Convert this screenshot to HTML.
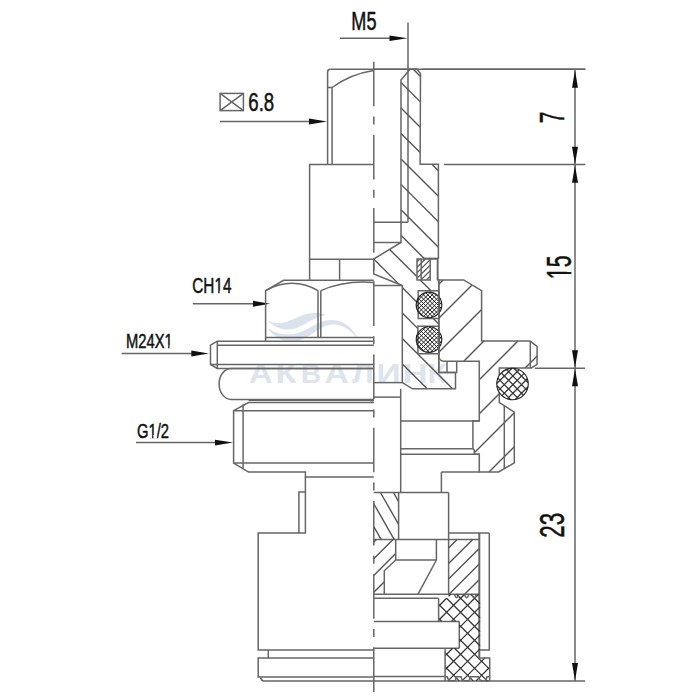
<!DOCTYPE html>
<html><head><meta charset="utf-8"><style>
html,body{margin:0;padding:0;background:#fff;}
svg{display:block;}
rect, line, path{fill:none;stroke:#666;stroke-width:1.5;}
.h{stroke:#555;stroke-width:1.4;}
.cl{stroke-dasharray:44.6 10.3 8 10.3;}
.ah{fill:#111;stroke:none;}
.wh{fill:#fff;stroke:none;}
.td{stroke-width:0.9;}
.wm{fill:#dae2ec;stroke:none;}
.wmt{font-family:"Liberation Sans",sans-serif;font-weight:bold;fill:#dde4ed;}
.hf{stroke-width:1.1;stroke:#444;}
.hx{stroke-width:1.25;stroke:#333;}
.hr{stroke-width:1.0;stroke:#222;}
.oc{fill:none;stroke:#222;stroke-width:1.1;}
.thick{stroke-width:2;}
.t{font-family:"Liberation Sans",sans-serif;fill:#111;stroke:#111;stroke-width:0.5;}
</style></head><body>
<svg width="700" height="700" viewBox="0 0 700 700">
<g>
<path class="wm" d="M267.5,320.5 C275,328 284,331 293,329 C303,327 313,317 326.5,315 C317,311.5 306,313 296,318 C286,323 276,325 267.5,320.5 Z"/>
<path class="wm" d="M267.5,328 C277,341 290,345 303,339 C314,334 322,325 332,324.5 C343,324 352,331 358,339.5 C353,327 343,320 331,320 C318,320 309,330 298,333 C287,336 276,334 267.5,328 Z"/>
<text class="wmt" transform="translate(248.72,383.4) scale(1.186,1)" font-size="28">А</text>
<text class="wmt" transform="translate(275.39,383.4) scale(1.212,1)" font-size="28">К</text>
<text class="wmt" transform="translate(300.95,383.4) scale(1.000,1)" font-size="28">В</text>
<text class="wmt" transform="translate(324.28,383.4) scale(1.219,1)" font-size="28">А</text>
<text class="wmt" transform="translate(352.20,383.4) scale(1.082,1)" font-size="28">Л</text>
<text class="wmt" transform="translate(376.43,383.4) scale(1.195,1)" font-size="28">И</text>
<text class="wmt" transform="translate(402.75,383.4) scale(1.233,1)" font-size="28">Н</text>
<text class="wmt" transform="translate(427.58,383.4) scale(1.126,1)" font-size="28">К</text>
<g transform="translate(351.3,30.3) scale(0.71,1)"><text class="t" font-size="25.5">M5</text></g>
<line x1="340" y1="38.3" x2="390" y2="38.3"/>
<polygon class="ah" points="407.5,38.3 389.5,35.5 389.5,41.1"/>
<line x1="408" y1="22.5" x2="408" y2="222.2"/>
<rect x="220.1" y="93.4" width="23.3" height="17.2"/>
<line x1="220.1" y1="93.4" x2="243.4" y2="110.6"/>
<line x1="243.4" y1="93.4" x2="220.1" y2="110.6"/>
<g transform="translate(248.3,111.1) scale(0.73,1)"><text class="t" font-size="25.5">6.8</text></g>
<line x1="220" y1="121.5" x2="310" y2="121.5"/>
<polygon class="ah" points="327,121.5 309,118.6 309,124.4"/>
<g transform="translate(192.3,293.4) scale(0.72,1)"><text class="t" font-size="21.3">CH14</text><rect class="wh" x="30.76" y="-2.63" width="5.22" height="3.43"/><rect class="wh" x="37.89" y="-2.63" width="4.90" height="3.43"/></g>
<line x1="192.8" y1="303.7" x2="256" y2="303.7"/>
<polygon class="ah" points="270,303.7 253,300.7 253,306.7"/>
<g transform="translate(126,347.9) scale(0.72,1)"><text class="t" font-size="20.5">M24X1</text><rect class="wh" x="53.55" y="-2.55" width="5.02" height="3.35"/><rect class="wh" x="60.41" y="-2.55" width="4.71" height="3.35"/></g>
<line x1="121.6" y1="353.5" x2="195" y2="353.5"/>
<polygon class="ah" points="208.8,353.5 191.3,350.6 191.3,356.4"/>
<g transform="translate(137,437.6) scale(0.72,1)"><text class="t" font-size="20.5">G1/2</text><rect class="wh" x="15.95" y="-2.55" width="5.02" height="3.35"/><rect class="wh" x="22.82" y="-2.55" width="4.71" height="3.35"/></g>
<line x1="136" y1="442.6" x2="218" y2="442.6"/>
<polygon class="ah" points="233,442.6 215,439.7 215,445.5"/>
<line x1="373.8" y1="69.3" x2="585.4" y2="69.3"/>
<line x1="443.9" y1="164.6" x2="585.4" y2="164.6"/>
<line x1="534.9" y1="368.3" x2="585.1" y2="368.3"/>
<line x1="486" y1="680.9" x2="585.1" y2="680.9"/>
<line x1="575" y1="69.5" x2="575" y2="680.9"/>
<polygon class="ah" points="575,70.2 572,87.7 578,87.7"/>
<polygon class="ah" points="575,164.2 572,146.7 578,146.7"/>
<polygon class="ah" points="575,165.2 572,182.7 578,182.7"/>
<polygon class="ah" points="575,367.8 572,350.3 578,350.3"/>
<polygon class="ah" points="575,368.8 572,386.3 578,386.3"/>
<polygon class="ah" points="575,680.4 572,662.9 578,662.9"/>
<g transform="translate(563.5,123.2) rotate(-90) scale(0.6,1)"><text class="t td" font-size="35">7</text></g>
<g transform="translate(571,279.2) rotate(-90) scale(0.61,1)"><text class="t td" font-size="35">15</text><rect class="wh" x="0.00" y="-4.00" width="8.57" height="4.80"/><rect class="wh" x="11.73" y="-4.00" width="8.05" height="4.80"/></g>
<g transform="translate(563.8,537.8) rotate(-90) scale(0.64,1)"><text class="t td" font-size="35">23</text></g>
<path d="M327.6,164.6 L327.6,72 Q327.6,69.3 330.3,69.3"/>
<line x1="327.6" y1="87.5" x2="332.1" y2="87.5"/>
<line x1="332.1" y1="87.5" x2="332.1" y2="164.6"/>
<path d="M332.1,87.5 Q350,74 373.6,70.4"/>
<path d="M373.8,164.6 L309.6,164.6 L309.6,259.3 L373.8,259.3"/>
<line x1="309.6" y1="259.3" x2="309.6" y2="280.3"/>
<line x1="339.6" y1="259.3" x2="339.6" y2="280.3"/>
<path d="M373.8,280.3 L283.6,280.3 L265.6,290.6 L265.6,341.2"/>
<line x1="265.6" y1="337.6" x2="373.8" y2="337.6"/>
<line x1="318" y1="290.6" x2="318" y2="337.8"/>
<line x1="320.8" y1="290.6" x2="320.8" y2="337.8"/>
<path d="M265.6,290.6 Q292,276 318,290.6"/>
<path d="M320.8,290.6 Q345,280 373.8,282.5"/>
<path d="M373.8,341.2 L217.3,341.2 L210.5,345.2 L210.5,364.5 L217.3,368.4 L373.8,368.4"/>
<line x1="217.3" y1="341.2" x2="217.3" y2="368.3"/>
<line x1="217.3" y1="345.2" x2="373.8" y2="345.2"/>
<line x1="210.5" y1="364.5" x2="373.8" y2="364.5"/>
<path d="M373.8,368.5 L231,368.5 A11.9,15.45 0 0 0 231,399.4 L373.8,399.4"/>
<path d="M373.8,402.6 L248.6,402.6 L233.6,410.7 L233.6,463.1 L248.6,472.1 L305.4,472.1 L305.4,477.1 L373.8,477.1"/>
<line x1="243.1" y1="404.3" x2="243.1" y2="468.6"/>
<line x1="233.6" y1="410.7" x2="373.8" y2="410.7"/>
<line x1="233.6" y1="463.1" x2="373.8" y2="463.1"/>
<line x1="248.6" y1="400.3" x2="373.8" y2="400.3"/>
<path d="M305.4,477.1 L305.4,532.9 L258.2,532.9 L258.2,650 L373.8,650"/>
<path d="M298.9,532.9 L298.9,492.1 L305.4,492.1"/>
<line x1="268.3" y1="650" x2="268.3" y2="658.1"/>
<path d="M373.8,658.1 L258.2,658.1 L258.2,676.9 L373.8,676.9"/>
<path d="M260.6,676.9 Q260.8,681.1 264.5,681.1 L373.8,681.1"/>
<line x1="330.3" y1="69.3" x2="417" y2="69.3"/>
<line x1="422.4" y1="69.3" x2="585.4" y2="69.3"/>
<line x1="373.8" y1="222.3" x2="408" y2="222.3"/>
<line x1="373.8" y1="242.5" x2="401" y2="242.5"/>
<line x1="373.8" y1="285.5" x2="402.3" y2="285.5"/>
<line x1="373.8" y1="382.6" x2="402.5" y2="382.6"/>
<line x1="373.8" y1="397.1" x2="400.7" y2="397.1"/>
<line x1="370" y1="400.3" x2="373.8" y2="400.3"/>
<line x1="370" y1="402.3" x2="373.8" y2="402.3"/>
<path class="h" d="M413.28,69.3L420.49,76.51M401,82.49L420.38,101.87M401,107.96L420.26,127.22M401,133.43L420.15,152.58M431.87,164.3L438.4,170.83M401,158.9L438.4,196.3M401,184.37L438.4,221.77M401,209.84L438.4,247.24M401,235.31L424.69,259M389.61,249.39L417,276.78M420.12,279.9L431.02,290.8M373.73,258.98L398.87,284.12M402.3,287.55L418.2,303.45M433.35,318.6L438.8,324.05M402.3,313.02L417.9,328.62M402.3,338.49L452.61,388.8M402.3,363.96L427.14,388.8"/>
<path d="M401,80 L410,69.3 L417,69.3 L420.5,73.5 L420.1,164.3 L438.4,164.3 L438.4,258.4 L437.6,259 L437.6,279.9 L438.8,279.9 L438.8,372.6 L455.5,372.6 L455.5,388.8 L412.5,388.8 L402.3,382.6 L402.3,285.5 L373.7,274 L373.7,259 L401,242.5 Z"/>
<line x1="423.5" y1="258.4" x2="438.4" y2="258.4"/>
<path class="hf" d="M417,261.8L419.8,259M417,267.3L425.3,259M417,272.8L430.2,259.6M417,278.3L430.2,265.1M420.9,279.9L430.2,270.6M426.4,279.9L430.2,276.1"/>
<path d="M417,259 L430.2,259 L430.2,279.9 L417,279.9 Z"/>
<line x1="421.2" y1="259" x2="421.2" y2="279.9"/>
<path d="M430.2,259 L437.6,259 L437.6,279.9"/>
<path d="M418.2,290.8 L438.8,290.8 L438.8,318.6 L418.2,318.6 Z"/>
<path d="M417.9,326.3 L438.8,326.3 L438.8,353.7 L417.9,353.7 Z"/>
<path class="hr" d="M416.58,301.82L425.92,292.48M416.29,306.41L430.51,292.19M417.18,309.82L433.92,293.08M418.74,312.56L436.66,294.64M420.84,314.76L438.86,296.74M423.46,316.44L440.54,299.36M426.71,317.49L441.59,302.61M430.95,317.55L441.65,306.85"/>
<path class="hr" d="M435.44,293.84L440.06,298.46M429.41,292.11L441.79,304.49M425.57,292.57L441.33,308.33M422.55,293.85L440.05,311.35M420.1,295.7L438.2,313.8M418.18,298.08L435.82,315.72M416.81,301.01L432.89,317.09M416.2,304.7L429.2,317.7M417.31,310.11L423.79,316.59"/>
<circle cx="429" cy="304.9" r="12.8" class="oc"/>
<path class="hr" d="M416.69,336.11L425.51,327.29M416.26,340.84L430.24,326.86M417.1,344.3L433.7,327.7M418.62,347.08L436.48,329.22M420.68,349.32L438.72,331.28M423.26,351.04L440.44,333.86M426.46,352.14L441.54,337.06M430.6,352.3L441.7,341.2"/>
<path class="hr" d="M436.27,329.07L439.53,332.33M429.72,326.82L441.78,338.88M425.81,327.21L441.39,342.79M422.74,328.44L440.16,345.86M420.26,330.26L438.34,348.34M418.29,332.59L436.01,350.31M416.88,335.48L433.12,351.72M416.21,339.11L429.49,352.39M417.1,344.3L424.3,351.5"/>
<circle cx="429" cy="339.6" r="12.8" class="oc"/>
<path class="h" d="M438.8,284.2L443.1,279.9M438.8,318.2L472.04,284.96M438.8,352.2L481.6,309.4M463.8,361.2L483.9,341.1M479.3,379.7L517.9,341.1M479.3,413.7L499.3,393.7M525.1,367.9L537.1,355.9M474.3,452.7L514.3,412.7M489,472L514.3,446.7"/>
<path d="M438.8,279.9 L463.6,279.9 L481.6,290.7 L481.6,341.1 L530,341.1 L537.1,346.4 L537.1,364.3 L531.4,367.9 L499.3,367.9 L499.3,402.6 L504.3,405.7 L514.3,412.1 L514.3,462.9 L498.6,472 L479.3,472 L479.3,454.3 L474.3,454.3 L474.3,450 L472.9,448.6 L472.9,420.9 L479.3,420.9 L479.3,361.2 L443.8,361.2 L442.51,361.03 L441.3,360.53 L440.26,359.74 L439.47,358.7 L438.97,357.49 L438.8,356.2 L438.8,354 Z"/>
<line x1="530.3" y1="341.1" x2="530.3" y2="367.9"/>
<line x1="504.3" y1="405.7" x2="504.3" y2="468.6"/>
<circle cx="512.5" cy="384" r="15.75" fill="#fff" stroke="none"/>
<path class="hx" d="M496.76,383.54L512.04,368.26M498.23,390.67L519.17,369.73M501.88,395.62L524.12,373.38M507.25,398.85L527.35,378.75M515.19,399.51L528.01,386.69"/>
<path class="hx" d="M513.81,368.31L528.19,382.69M506.39,369.49L527.01,390.11M501.27,372.97L523.53,395.23M497.87,378.17L518.33,398.63M496.85,385.75L510.75,399.65"/>
<circle cx="512.5" cy="384" r="15.75" class="oc"/>
<path d="M438.8,361.2 L438.8,372.6 L456.7,372.6 L456.7,361.2"/>
<line x1="447" y1="361.2" x2="447" y2="372.6"/>
<line x1="400.7" y1="388.8" x2="400.7" y2="492.5"/>
<line x1="400.7" y1="421.1" x2="479.3" y2="421.1"/>
<line x1="400.7" y1="448.8" x2="472.9" y2="448.8"/>
<line x1="400.7" y1="454.3" x2="479.3" y2="454.3"/>
<line x1="441.4" y1="472" x2="479.3" y2="472"/>
<line x1="441.4" y1="472" x2="441.4" y2="492.5"/>
<line x1="373.8" y1="492.5" x2="448.6" y2="492.5"/>
<line x1="448.6" y1="492.5" x2="448.6" y2="594.3"/>
<line x1="448.6" y1="532.9" x2="489.3" y2="532.9"/>
<line x1="373.8" y1="539.4" x2="479.3" y2="539.4"/>
<path class="h" d="M393.43,492.5L398.6,501.55M380.4,492.5L398.6,524.35M373.8,503.75L394.29,539.6M373.8,526.55L381.26,539.6"/>
<line x1="398.6" y1="492.5" x2="398.6" y2="539.6"/>
<path class="h" d="M373.8,541.9L376.3,539.4M373.8,558.7L393.1,539.4M373.8,575.5L395.7,553.6M373.8,592.3L384.3,581.8"/>
<path d="M395.7,539.4 L395.7,560 L384.3,570.7 L384.3,594.3"/>
<line x1="395.7" y1="560" x2="436.4" y2="560"/>
<line x1="436.4" y1="539.4" x2="436.4" y2="560"/>
<line x1="436.4" y1="560" x2="417.9" y2="594.3"/>
<path class="h" d="M448.6,547.9L457.1,539.4M448.6,563.5L472.7,539.4M448.6,579.1L479.5,548.2M449,594.3L479.5,563.8M464.6,594.3L479.5,579.4"/>
<line x1="479.3" y1="532.9" x2="479.3" y2="657.9" class="thick"/>
<path d="M480,650 L489.3,650 L489.3,532.9"/>
<line x1="373.8" y1="594.3" x2="480" y2="594.3"/>
<line x1="373.8" y1="598.3" x2="438.6" y2="598.3"/>
<line x1="373.8" y1="621.4" x2="459.3" y2="621.4"/>
<line x1="459.3" y1="621.4" x2="459.3" y2="648.2"/>
<line x1="373.8" y1="648.2" x2="459.3" y2="648.2"/>
<line x1="373.8" y1="676.6" x2="445.1" y2="676.6"/>
<line x1="373.8" y1="680.9" x2="489.7" y2="680.9"/>
<path class="hx" d="M438.6,606.3L446.6,598.3M448.6,596.3L450.6,594.3M438.6,620.3L464.6,594.3M451.5,621.4L478.6,594.3M459.3,627.6L480,606.9M445.1,655.8L452.7,648.2M459.3,641.6L480,620.9M445.1,669.8L480,634.9M448,680.9L480,648.9M462,680.9L485,657.9M476,680.9L489.7,667.2"/>
<path class="hx" d="M470.6,594.3L480,603.7M456.6,594.3L480,617.7M446.6,598.3L480,631.7M438.6,604.3L455.7,621.4M459.3,625L480,645.7M438.6,618.3L441.7,621.4M459.3,639L489.7,669.4M454.5,648.2L487.2,680.9M445.1,652.8L473.2,680.9M445.1,666.8L459.2,680.9"/>
<path d="M438.6,598.3 L438.6,621.4"/>
<path d="M445.1,648.2 L445.1,680.9"/>
<path d="M480,657.9 L489.7,657.9 L489.7,680.9"/>
<path d="M454.4,594.3 Q456.7,601 459.0,594.3"/>
<path d="M464.4,594.3 Q466.7,601 469.0,594.3"/>
<path d="M471.9,594.3 Q474.2,601 476.5,594.3"/>
<path d="M445.1,676.7 L447.2,676.7 Q448.5,680.8 450.5,680.8 L454.5,680.8 Q455.5,680.8 456.3,676.8 L461.1,676.8 Q462,680.8 464,680.8 L468.5,680.8 Q469.5,680.8 470.3,676.8 L478.6,676.8 Q479.5,680.8 481.5,680.8 L485,680.8 Q486,680.8 487,676.8 L489.7,676.8"/>
<line x1="373.8" y1="61.7" x2="373.8" y2="698" class="cl"/>
</g>
</svg></body></html>
